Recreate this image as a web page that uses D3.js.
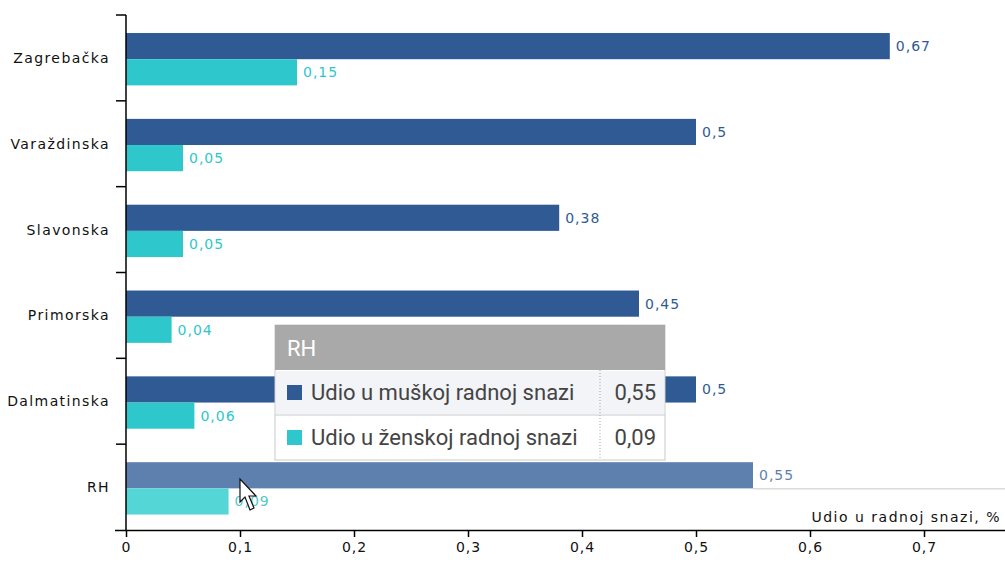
<!DOCTYPE html>
<html>
<head>
<meta charset="utf-8">
<script src="https://cdn.jsdelivr.net/npm/d3@7"></script>
<style>
  body { margin: 0; background: #fff; }
  svg { display: block; }
</style>
</head>
<body>
<svg width="1005" height="563"></svg>
<script>
// podaci
const regions = ['Zagrebačka', 'Varaždinska', 'Slavonska', 'Primorska', 'Dalmatinska', 'RH'];
const maleShare = [0.67, 0.5, 0.38, 0.45, 0.5, 0.55];
const femaleShare = [0.15, 0.05, 0.05, 0.04, 0.06, 0.09];
const xTicks = [0, 0.1, 0.2, 0.3, 0.4, 0.5, 0.6, 0.7];
const seriesNames = ['Udio u muškoj radnoj snazi', 'Udio u ženskoj radnoj snazi'];
const hovered = 'RH';

const colMale = '#2f5a94';
const colFemale = '#2ec7cc';
const colMaleHi = '#5e80ae';
const colFemaleHi = '#55d6d6';

const fmt = v => String(v).replace('.', ',');
const axisFont = '14px "DejaVu Sans", Verdana, sans-serif';
const tipFont = '22px Roboto, sans-serif';

const svg = d3.select('svg');
const x = d3.scaleLinear().domain([0, 0.7]).range([126, 924]);
const y = d3.scaleBand().domain(regions).range([15, 530]);
const bw = y.bandwidth();

// redovi
const rows = svg.append('g')
    .selectAll('g')
    .data(regions)
    .enter()
    .append('g')
    .each(function(d, i) {
        let gg = d3.select(this);
        let top = y(d);
        let hi = d === hovered;
        let y1 = top + bw * 0.21;
        let h = bw * 0.305;
        gg.append('rect')
            .attr('x', x(0))
            .attr('y', y1)
            .attr('width', x(maleShare[i]) - x(0))
            .attr('height', h)
            .attr('fill', hi ? colMaleHi : colMale);
        gg.append('rect')
            .attr('x', x(0))
            .attr('y', y1 + h)
            .attr('width', x(femaleShare[i]) - x(0))
            .attr('height', h)
            .attr('fill', hi ? colFemaleHi : colFemale);
        if (hi) {
            gg.append('line')
                .attr('x1', x(maleShare[i]))
                .attr('x2', 1005)
                .attr('y1', y1 + h + 0.5)
                .attr('y2', y1 + h + 0.5)
                .attr('stroke', '#c8c8c8');
        }
        gg.append('text')
            .attr('x', x(maleShare[i]) + 6)
            .attr('y', y1 + h / 2 + 5)
            .attr('fill', hi ? '#5e80ae' : colMale)
            .attr('letter-spacing', 1)
            .style('font', axisFont)
            .text(fmt(maleShare[i]));
        gg.append('text')
            .attr('x', x(femaleShare[i]) + 6)
            .attr('y', y1 + h * 1.5 + 5)
            .attr('fill', hi ? '#55c8c8' : colFemale)
            .attr('letter-spacing', 1)
            .style('font', axisFont)
            .text(fmt(femaleShare[i]));
    });

// osi
const xAxis = svg.append('g')
    .attr('transform', 'translate(0,530)')
    .call(d3.axisBottom(x).tickValues(xTicks).tickSize(7).tickFormat(fmt));
xAxis.select('.domain').attr('d', 'M115,0.5H1005').attr('stroke', '#000').attr('stroke-width', 1.5);
xAxis.selectAll('.tick line').attr('stroke', '#000').attr('stroke-width', 1.5);
xAxis.selectAll('.tick text')
    .attr('y', 12)
    .attr('fill', '#111')
    .attr('letter-spacing', 1)
    .style('font', axisFont);

const yAxis = svg.append('g')
    .attr('transform', 'translate(126,0)');
yAxis.append('line')
    .attr('x1', 0).attr('x2', 0)
    .attr('y1', 15).attr('y2', 530)
    .attr('stroke', '#000').attr('stroke-width', 1.5);
yAxis.selectAll('line.tk')
    .data(regions)
    .enter()
    .append('line')
    .attr('class', 'tk')
    .attr('x1', -10).attr('x2', 0)
    .attr('y1', d => y(d)).attr('y2', d => y(d))
    .attr('stroke', '#000').attr('stroke-width', 1.5);
yAxis.selectAll('text')
    .data(regions)
    .enter()
    .append('text')
    .attr('x', -16)
    .attr('y', d => y(d) + bw / 2 + 5)
    .attr('text-anchor', 'end')
    .attr('fill', '#111')
    .attr('letter-spacing', 1.4)
    .style('font', axisFont)
    .text(d => d);

svg.append('text')
    .attr('x', 1001)
    .attr('y', 522)
    .attr('text-anchor', 'end')
    .attr('fill', '#111')
    .attr('letter-spacing', 1.5)
    .style('font', axisFont)
    .text('Udio u radnoj snazi, %');

// tooltip
const hi = regions.indexOf(hovered);
const tip = svg.append('g').attr('transform', 'translate(275,325)');
const tipW = 390, headH = 45, rowH = 45;
tip.append('rect')
    .attr('width', tipW).attr('height', headH + 2 * rowH)
    .attr('fill', '#fff').attr('stroke', '#c9c9c9');
tip.append('rect')
    .attr('width', tipW).attr('height', headH)
    .attr('fill', '#a9a9a9');
tip.append('text')
    .attr('x', 12).attr('y', 31)
    .attr('fill', '#fff')
    .style('font', tipFont)
    .text(hovered);
const tipVals = [maleShare[hi], femaleShare[hi]];
const tipCols = [colMale, colFemale];
tipVals.forEach((v, i) => {
    let ry = headH + i * rowH;
    if (i === 0) {
        tip.append('rect')
            .attr('x', 1).attr('y', ry + 1)
            .attr('width', tipW - 2).attr('height', rowH - 2)
            .attr('fill', '#f2f4f7');
    }
    if (i === 1) {
        tip.append('line')
            .attr('x1', 0).attr('x2', tipW)
            .attr('y1', ry).attr('y2', ry)
            .attr('stroke', '#c9c9c9');
    }
    tip.append('rect')
        .attr('x', 12).attr('y', ry + 15)
        .attr('width', 15).attr('height', 15)
        .attr('fill', tipCols[i]);
    tip.append('text')
        .attr('x', 36).attr('y', ry + 30)
        .attr('fill', '#444')
        .style('font', tipFont)
        .text(seriesNames[i]);
    tip.append('text')
        .attr('x', 381).attr('y', ry + 30)
        .attr('text-anchor', 'end')
        .attr('fill', '#444')
        .style('font', tipFont)
        .text(fmt(v));
});
tip.append('line')
    .attr('x1', 325).attr('x2', 325)
    .attr('y1', headH).attr('y2', headH + 2 * rowH)
    .attr('stroke', '#9aa')
    .attr('stroke-dasharray', '1,2');

// pokazivač miša
svg.append('path')
    .attr('d', 'M240,479 L240,502 L245,497 L250,510 L254,508 L249,496 L256,496 Z')
    .attr('fill', '#fff')
    .attr('stroke', '#111')
    .attr('stroke-width', 1.2);
</script>
</body>
</html>
